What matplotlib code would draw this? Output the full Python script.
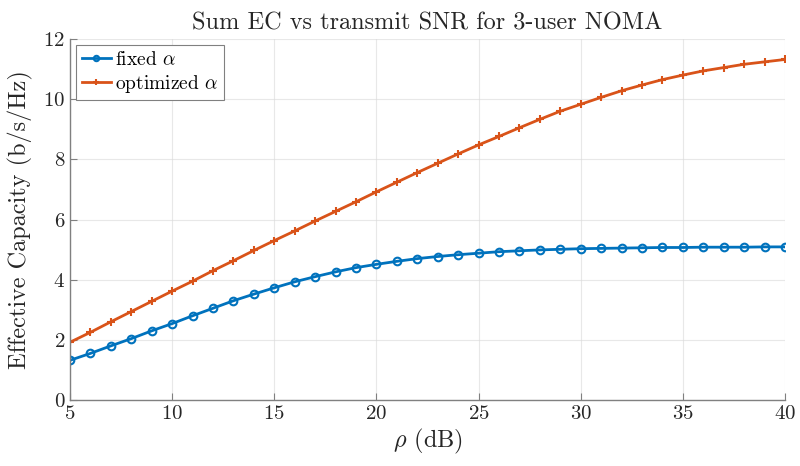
import numpy as np
import matplotlib.pyplot as plt

plt.rcParams['font.family'] = 'cmr10'
plt.rcParams['mathtext.fontset'] = 'cm'
plt.rcParams['axes.formatter.use_mathtext'] = True

# transmit SNR (dB)
rho_db = np.arange(5, 41)

# sum effective capacity
ec_fixed = [1.32, 1.55, 1.80, 2.04, 2.30, 2.54, 2.80, 3.05, 3.30, 3.52,
            3.73, 3.93, 4.10, 4.26, 4.40, 4.51, 4.61, 4.70, 4.77, 4.83,
            4.88, 4.93, 4.96, 4.99, 5.01, 5.03, 5.04, 5.05, 5.06, 5.07,
            5.07, 5.08, 5.08, 5.08, 5.09, 5.09]
ec_opt = [1.92, 2.25, 2.60, 2.94, 3.28, 3.62, 3.95, 4.30, 4.63, 4.97,
          5.30, 5.62, 5.95, 6.27, 6.59, 6.92, 7.24, 7.56, 7.87, 8.18,
          8.48, 8.76, 9.05, 9.33, 9.60, 9.83, 10.06, 10.28, 10.47, 10.65,
          10.80, 10.94, 11.05, 11.16, 11.24, 11.32]

xticks = [5, 10, 15, 20, 25, 30, 35, 40]
yticks = [0, 2, 4, 6, 8, 10, 12]

blue = '#0072BD'
orange = '#D95319'

fig = plt.figure(figsize=(8, 4.66), dpi=100)
ax = fig.add_axes([0.0875, 0.1416, 0.89375, 0.7747])

ax.plot(rho_db, ec_fixed, '-o', color=blue, lw=2, ms=5.5, mfc='none',
        mew=1.5, label=r'fixed $\alpha$')
ax.plot(rho_db, ec_opt, '-+', color=orange, lw=2, ms=6, mew=1.5,
        label=r'optimized $\alpha$')

ax.set_xlim(5, 40)
ax.set_ylim(0, 12)
ax.set_xticks(xticks)
ax.set_yticks(yticks)
ax.tick_params(direction='in', labelsize=15, colors='#262626', length=5,
               width=0.8)
ax.tick_params(axis='both', color='#808080')
ax.grid(True, color='#d9d9d9', lw=0.8, alpha=0.6)
ax.set_axisbelow(True)

for s in ['top', 'right']:
    ax.spines[s].set_visible(False)
for s in ['left', 'bottom']:
    ax.spines[s].set_color('#808080')
    ax.spines[s].set_linewidth(1.0)

ax.set_xlabel(r'$\rho$ (dB)', fontsize=17.5, color='#262626', labelpad=3)
ax.set_ylabel('Effective Capacity (b/s/Hz)', fontsize=17.5, color='#262626',
              labelpad=7)
ax.set_title('Sum EC vs transmit SNR for 3-user NOMA', fontsize=17.5,
             color='#262626', pad=7)

leg = ax.legend(loc='upper left', fontsize=14, fancybox=False,
                edgecolor='#808080', framealpha=1, handlelength=1.5,
                handletextpad=0.2, borderpad=0.3, labelspacing=0.2,
                borderaxespad=0.3, markerscale=0.7)
leg.get_frame().set_linewidth(0.8)

fig.savefig('out.png', dpi=100)
